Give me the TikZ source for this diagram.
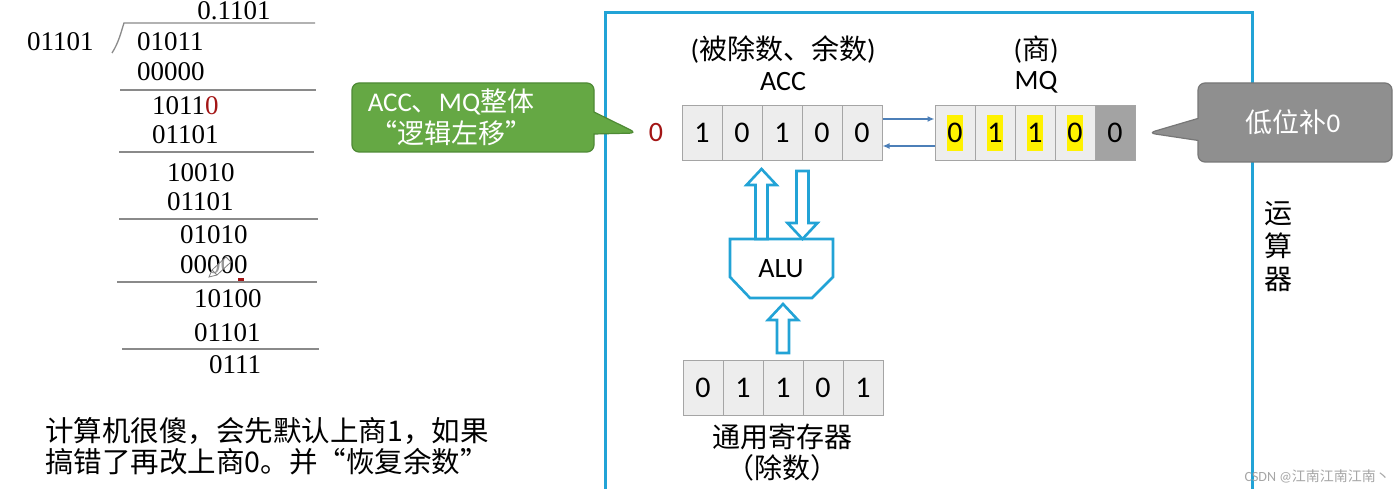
\documentclass[tikz,border=0pt]{standalone}
\usepackage{fontspec}
\setmainfont{Carlito}
\newfontfamily\zh{Noto Sans CJK SC}
\newfontfamily\tm{Liberation Serif}
\usetikzlibrary{arrows.meta,positioning,calc,shapes.callouts}
\definecolor{BoxBlue}{HTML}{22A3D6}
\definecolor{LinkBlue}{HTML}{4C7FB8}
\definecolor{NoteGreen}{HTML}{65A844}
\definecolor{NoteGreenDark}{HTML}{4E8A35}
\definecolor{NoteGray}{HTML}{8F8F8F}
\definecolor{NoteGrayDark}{HTML}{777777}
\definecolor{CellFill}{HTML}{EDEDED}
\definecolor{CellLine}{HTML}{A5A5A5}
\definecolor{CellDark}{HTML}{A3A3A3}
\definecolor{RuleGray}{HTML}{8A8A8A}
\definecolor{DarkRed}{HTML}{A31515}
\tikzset{
  digits/.style={inner sep=0pt,font=\tm\fontsize{27}{30}\selectfont},
  divline/.style={draw=RuleGray,line width=1.3pt},
  cell/.style={draw=CellLine,fill=CellFill,line width=1pt,minimum width=40pt,minimum height=55pt,inner sep=0pt,font=\fontsize{30}{32}\selectfont},
  darkcell/.style={cell,fill=CellDark},
  label/.style={inner sep=0pt,align=center,font=\fontsize{28}{31}\selectfont},
  link/.style={-{Latex[length=7pt,width=6pt]},draw=LinkBlue,line width=1.4pt},
  fat/.style={draw=BoxBlue,fill=white,line width=2.6pt,line join=miter},
  bubble/.style={rectangle callout,rounded corners=7pt,line width=1.2pt,callout pointer width=22pt},
  note/.style={inner sep=0pt,align=center,text=white,font=\fontsize{27}{32}\selectfont}
}
\newcommand\fatup[2]{%
  \draw[fat] let \p1=(#1), \p2=(#2) in
    (\x1-6,\y1) -- (\x1-6,\y2-16) -- (\x1-15,\y2-16) -- (\x1,\y2) --
    (\x1+15,\y2-16) -- (\x1+6,\y2-16) -- (\x1+6,\y1) -- cycle;}
\newcommand\fatdown[2]{%
  \draw[fat] let \p1=(#1), \p2=(#2) in
    (\x1-6,\y1) -- (\x1-6,\y2+16) -- (\x1-15,\y2+16) -- (\x1,\y2) --
    (\x1+15,\y2+16) -- (\x1+6,\y2+16) -- (\x1+6,\y1) -- cycle;}
\begin{document}
\begin{tikzpicture}[x=1pt,y=-1pt]
  \clip (0,0) rectangle (1400,489);
  \fill[white] (0,0) rectangle (1400,489);
  \node[digits] (quot) at (234,10.5) {0.1101};
  \node[digits,anchor=west] (dvs) at (27,42) {01101};
  \node[digits,anchor=west] (row1) at (137,42) {01011};
  \node[digits,anchor=west] (row2) at (137,72) {00000};
  \node[digits,anchor=west] (row3) at (152,106) {1011{\color{DarkRed}0}};
  \node[digits,anchor=west] (row4) at (152,135) {01101};
  \node[digits,anchor=west] (row5) at (167,173) {10010};
  \node[digits,anchor=west] (row6) at (167,202) {01101};
  \node[digits,anchor=west] (row7) at (180,235) {01010};
  \node[digits,anchor=west] (row8) at (180,265) {00000};
  \node[digits,anchor=west] (row9) at (194,299) {10100};
  \node[digits,anchor=west] (row10) at (194,333) {01101};
  \node[digits,anchor=west] (row11) at (209,365) {0111};
  \draw[divline] (112,53) .. controls (119,42) and (121,32) .. (124,23) -- (315,23);
  \draw[divline] (120,90) -- (316,90);
  \draw[divline] (119,152) -- (314,152);
  \draw[divline] (119,219) -- (318,219);
  \draw[divline] (117,282) -- (317,282);
  \draw[divline] (122,349) -- (319,349);
  \draw[gray,line width=0.8pt,fill=white,fill opacity=0.6] (209,277) -- (212,270) -- (226,257) -- (231,262) -- (217,275) -- cycle;
  \draw[gray,line width=0.8pt] (212,270) -- (217,275);
  \fill[DarkRed] (238,278) rectangle (244,281);
  \node[label,anchor=west,align=left,font=\zh\fontsize{28.5}{31}\selectfont] (remark) at (45,446)
    {计算机很傻，会先默认上商1，如果\\搞错了再改上商0。并“恢复余数”};
  \draw[draw=BoxBlue,line width=3pt] (605,13) rectangle (1252,520);
  \node[label] (accname) at (783,50) {({\zh 被除数、余数})};
  \node[label] (acclabel) at (783,82) {ACC};
  \node[label] (mqname) at (1036,50) {({\zh 商})};
  \node[label] (mqlabel) at (1036,82) {MQ};
  \foreach \d [count=\i] in {1,0,1,0,0}
    \node[cell] (acc\i) at (662+40*\i,133) {\d};
  \foreach \d [count=\i] in {0,1,1,0}
    \node[cell] (mq\i) at (915+40*\i,133)
      {{\setlength\fboxsep{0pt}\colorbox{yellow}{\rule[-8pt]{0pt}{36pt}\d}}};
  \node[darkcell] (mq5) at (1115,133) {0};
  \node[label,text=DarkRed] (lead) at (656,133) {0};
  \draw[link] ($(acc5.east)+(0,-14)$) -- ($(mq1.west)+(0,-14)$);
  \draw[link] ($(mq1.west)+(0,13)$) -- ($(acc5.east)+(0,13)$);
  \node[bubble,draw=NoteGreenDark,fill=NoteGreen,minimum width=242pt,minimum height=69pt,
    callout absolute pointer={($(lead.west)+(-12,0)$)}] (shiftnote) at (473,117.5) {};
  \node[note,font=\fontsize{27}{32}\selectfont] (shifttext) at (451,117)
    {ACC{\zh 、}MQ{\zh 整体}\\{\zh “逻辑左移”}};
  \node[bubble,draw=NoteGrayDark,fill=NoteGray,minimum width=194pt,minimum height=79pt,
    callout absolute pointer={($(mq5.east)+(13,0)$)}] (padnote) at (1295,122.5) {};
  \node[note] (padtext) at (1293,122) {{\zh 低位补}0};
  \node[label,font=\zh\fontsize{28}{33}\selectfont] (unit) at (1278,247) {运\\算\\器};
  \coordinate (alutop) at (781,239);
  \coordinate (alubot) at (781,298);
  \draw[fat] (730,239) -- (833,239) -- (833,277) -- (812,298) -- (750,298) -- (730,277) -- cycle;
  \node[label] (alu) at (781,269) {ALU};
  \fatup{alutop -| acc3.south west}{$(acc3.south west)+(0,8)$}
  \fatdown{$(acc3.south east)+(0,10)$}{alutop -| acc3.south east}
  \foreach \d [count=\i] in {0,1,1,0,1}
    \node[cell] (reg\i) at (663+40*\i,388) {\d};
  \fatup{$(reg3.north)+(0,-7)$}{$(alubot)+(0,6)$}
  \node[label,font=\zh\fontsize{28}{31}\selectfont] (regname) at (782,452) {通用寄存器\\（除数）};
  \node[inner sep=0pt,anchor=east,text=gray!70,font=\fontsize{14}{16}\selectfont] (mark) at (1390,476)
    {CSDN @{\zh 江南江南江南丶}};
\end{tikzpicture}
\end{document}
